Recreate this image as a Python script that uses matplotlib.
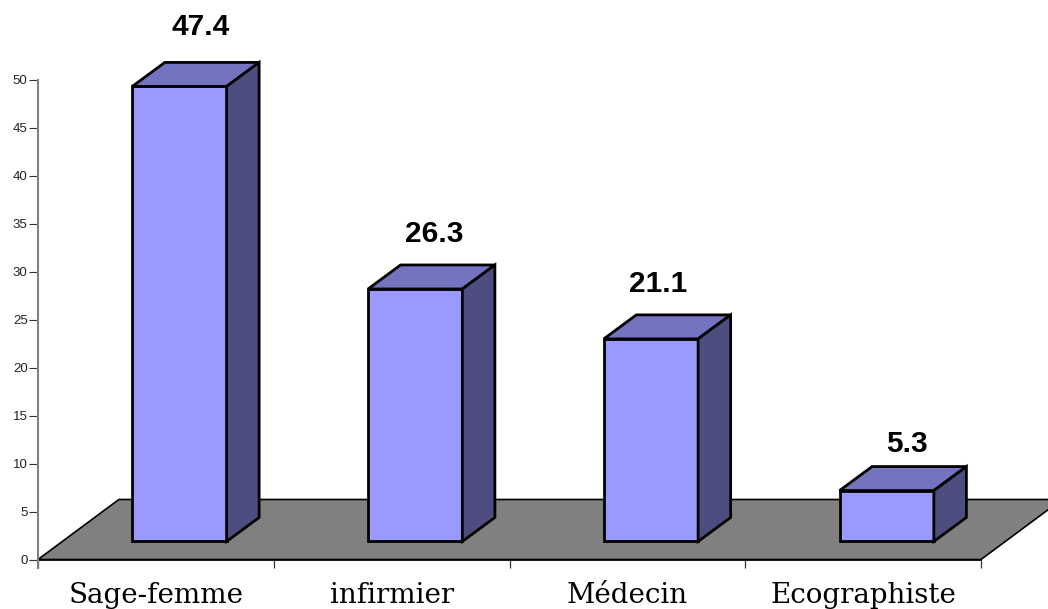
import matplotlib
matplotlib.use('Agg')
import matplotlib.pyplot as plt
from matplotlib.patches import Polygon

categories = ['Sage-femme', 'infirmier', 'Médecin', 'Ecographiste']
values = [47.4, 26.3, 21.1, 5.3]
value_labels = ['47.4', '26.3', '21.1', '5.3']
y_ticks = [0, 5, 10, 15, 20, 25, 30, 35, 40, 45, 50]

# labels were hand placed in the original, offsets in points from bar top
label_dx = [15, 13.7, 5, 14.4]
label_dy = [25.2, 22.3, 22.3, 16.6]

W, H = 1048, 609
fig = plt.figure(figsize=(W / 100, H / 100), dpi=100)
ax = fig.add_axes([38 / W, 1 - 559.5 / H, 943 / W, 480 / H])
ax.set_xlim(0, 4)
ax.set_ylim(0, 50)

# 3d look: depth offsets in data units
dx = 0.138
dy = 2.5
bar_left = 0.4
bar_w = 0.4
base = 1.88

# floor
ax.add_patch(Polygon([(0, 0), (0.343, 6.25), (4.343, 6.25), (4, 0)], closed=True,
                     fc='#808080', ec='black', lw=1.2, clip_on=False, zorder=1))

for i, v in enumerate(values):
    x0 = i + bar_left
    x1 = x0 + bar_w
    top = base + v
    ax.add_patch(Polygon([(x0, base), (x1, base), (x1, top), (x0, top)], closed=True,
                         fc='#9999FF', ec='black', lw=2, joinstyle='miter', zorder=3))
    ax.add_patch(Polygon([(x0, top), (x1, top), (x1 + dx, top + dy), (x0 + dx, top + dy)], closed=True,
                         fc='#7373BF', ec='black', lw=2, joinstyle='miter', clip_on=False, zorder=3))
    ax.add_patch(Polygon([(x1, base), (x1 + dx, base + dy), (x1 + dx, top + dy), (x1, top)], closed=True,
                         fc='#4D4D80', ec='black', lw=2, joinstyle='miter', clip_on=False, zorder=3))
    ax.annotate(value_labels[i], (x0 + bar_w / 2, top + dy), xytext=(label_dx[i], label_dy[i]),
                textcoords='offset points', ha='center', va='center', fontsize=21.5, fontweight='bold',
                family='Liberation Sans', color='black', annotation_clip=False)

for s in ['top', 'right']:
    ax.spines[s].set_visible(False)
ax.spines['left'].set_color('#808080')
ax.spines['left'].set_linewidth(1.5)
ax.spines['left'].set_bounds(0, 50)
ax.spines['bottom'].set_linewidth(1.2)
ax.spines['bottom'].set_zorder(2)

ax.set_yticks(y_ticks)
ax.set_yticklabels([str(t) for t in y_ticks], family='Liberation Sans', fontsize=9.5)
ax.tick_params(axis='y', length=6.5, width=0.8, pad=1, color='#333333', labelcolor='#222222')

ax.set_xticks([0, 1, 2, 3, 4])
ax.set_xticklabels([])
ax.tick_params(axis='x', length=6, width=0.9, color='#333333')
ax.plot([0, 0], [0, -0.9], color='#808080', lw=1.5, clip_on=False)

for i, c in enumerate(categories):
    ax.text(i + 0.5, -2.3, c, ha='center', va='top', fontsize=20,
            family='DejaVu Serif', color='black')

fig.savefig('out.png', dpi=100)
